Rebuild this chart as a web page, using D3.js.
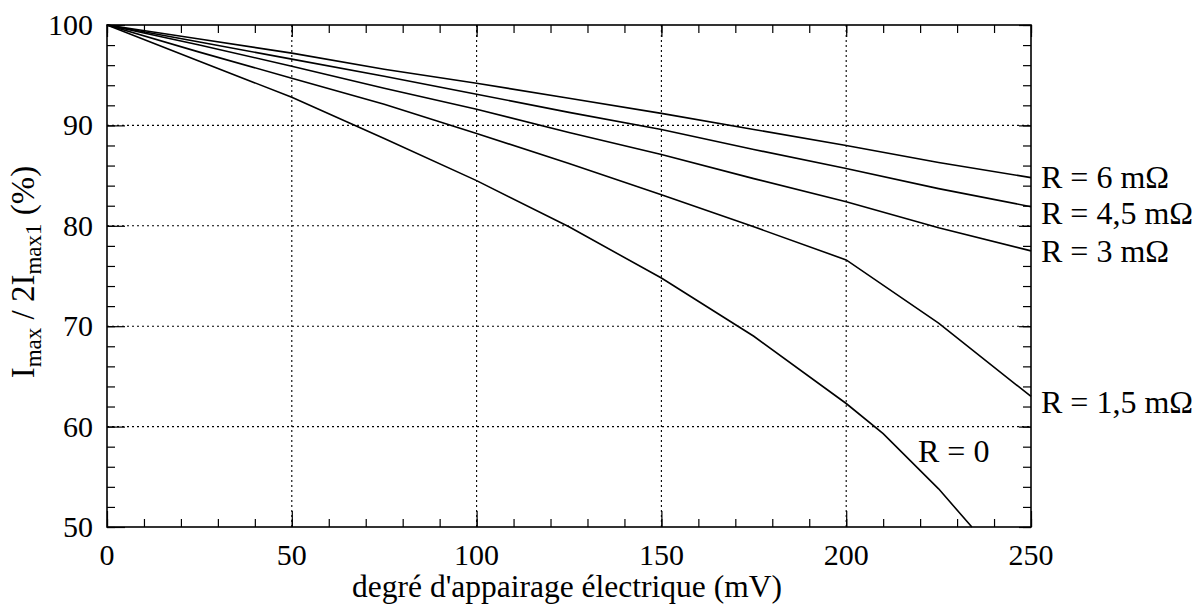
<!DOCTYPE html>
<html>
<head>
<meta charset="utf-8">
<script src="https://cdn.jsdelivr.net/npm/d3@7"></script>
<style>
  html, body { margin: 0; padding: 0; background: #fff; }
  svg { display: block; font-family: "Liberation Serif", "Times New Roman", serif; }
</style>
</head>
<body>
<svg id="chart" width="1203" height="604"></svg>
<script>
// ---- data ----
const xValues   = [0, 25, 50, 75, 100, 125, 150, 175, 200, 225, 250];
const seriesR6  = [100, 98.6, 97.2, 95.6, 94.2, 92.7, 91.2, 89.6, 88.0, 86.3, 84.8];
const seriesR45 = [100, 98.3, 96.6, 94.9, 93.1, 91.3, 89.6, 87.6, 85.7, 83.7, 81.9];
const seriesR3  = [100, 98.0, 95.9, 93.7, 91.6, 89.3, 87.1, 84.7, 82.4, 79.8, 77.5];
const seriesR15 = [100, 97.3, 94.7, 92.1, 89.2, 86.2, 83.1, 79.9, 76.6, 70.3, 63.0];
const xValuesR0 = [0, 25, 50, 75, 100, 125, 150, 175, 200, 210, 225, 234];
const seriesR0  = [100, 96.4, 92.8, 88.7, 84.5, 79.9, 74.8, 69.0, 62.3, 59.3, 53.8, 50];
const seriesLabels = ["R = 6 m\u03A9", "R = 4,5 m\u03A9", "R = 3 m\u03A9", "R = 1,5 m\u03A9", "R = 0"];
const xTickValues = [0, 50, 100, 150, 200, 250];
const yTickValues = [50, 60, 70, 80, 90, 100];
const xAxisTitle = "degr\u00e9 d'appairage \u00e9lectrique (mV)";

(function () {
// ---- layout ----
const svg = d3.select("#chart");
const pL = 107, pR = 1031, pT = 25, pB = 527;
const x = d3.scaleLinear().domain([0, 250]).range([pL, pR]);
const y = d3.scaleLinear().domain([50, 100]).range([pB, pT]);

// gridlines (dotted)
const grid = svg.append("g").attr("stroke", "#000").attr("stroke-width", 1.1)
  .attr("stroke-dasharray", "2,3");
xTickValues.filter(v => v > 0 && v < 250).forEach(v => {
  grid.append("line").attr("x1", x(v)).attr("x2", x(v)).attr("y1", pT).attr("y2", pB);
});
yTickValues.filter(v => v > 50 && v < 100).forEach(v => {
  grid.append("line").attr("x1", pL).attr("x2", pR).attr("y1", y(v)).attr("y2", y(v));
});

// axes with inward ticks
const minorX = d3.range(0, 251, 10);
const minorY = d3.range(50, 101, 2);
const axB = svg.append("g").attr("transform", `translate(0,${pB})`)
  .call(d3.axisTop(x).tickValues(minorX).tickSize(8).tickFormat(""));
const axT = svg.append("g").attr("transform", `translate(0,${pT})`)
  .call(d3.axisBottom(x).tickValues(minorX).tickSize(8).tickFormat(""));
const axL = svg.append("g").attr("transform", `translate(${pL},0)`)
  .call(d3.axisRight(y).tickValues(minorY).tickSize(8).tickFormat(""));
const axR = svg.append("g").attr("transform", `translate(${pR},0)`)
  .call(d3.axisLeft(y).tickValues(minorY).tickSize(8).tickFormat(""));
// major solid ticks
const axBM = svg.append("g").attr("transform", `translate(0,${pB})`)
  .call(d3.axisTop(x).tickValues(xTickValues).tickSize(16).tickFormat(""));
const axTM = svg.append("g").attr("transform", `translate(0,${pT})`)
  .call(d3.axisBottom(x).tickValues(xTickValues).tickSize(12).tickFormat(""));
const axLM = svg.append("g").attr("transform", `translate(${pL},0)`)
  .call(d3.axisRight(y).tickValues(yTickValues).tickSize(18).tickFormat(""));
const axRM = svg.append("g").attr("transform", `translate(${pR},0)`)
  .call(d3.axisLeft(y).tickValues(yTickValues).tickSize(12).tickFormat(""));
[axB, axT, axL, axR, axBM, axTM, axLM, axRM].forEach(g => {
  g.select(".domain").remove();
  g.selectAll("line").attr("stroke", "#000").attr("stroke-width", 1.2);
});

// frame
svg.append("rect").attr("x", pL).attr("y", pT)
  .attr("width", pR - pL).attr("height", pB - pT)
  .attr("fill", "none").attr("stroke", "#000").attr("stroke-width", 1.6);

// tick labels
svg.append("g").selectAll("text").data(xTickValues).join("text")
  .attr("x", d => x(d)).attr("y", 565)
  .attr("text-anchor", "middle").attr("font-size", 30).attr("fill", "#000")
  .text(d => d);
svg.append("g").selectAll("text").data(yTickValues).join("text")
  .attr("x", 93).attr("y", d => y(d) + 10)
  .attr("text-anchor", "end").attr("font-size", 30).attr("fill", "#000")
  .text(d => d);

// axis titles
svg.append("text").attr("x", (pL + pR) / 2 - 2).attr("y", 597)
  .attr("text-anchor", "middle").attr("font-size", 31.5).attr("fill", "#000")
  .text(xAxisTitle);

const yt = svg.append("text")
  .attr("transform", `translate(34,272) rotate(-90)`)
  .attr("text-anchor", "middle").attr("font-size", 33).attr("fill", "#000");
yt.append("tspan").text("I");
yt.append("tspan").attr("font-size", 23).attr("dy", 7).text("max");
yt.append("tspan").attr("dy", -7).text(" / 2I");
yt.append("tspan").attr("font-size", 23).attr("dy", 7).text("max1");
yt.append("tspan").attr("dy", -7).text(" (%)");

// curves
const line = d3.line().x(d => x(d[0])).y(d => y(d[1]));
const allSeries = [
  d3.zip(xValues, seriesR6),
  d3.zip(xValues, seriesR45),
  d3.zip(xValues, seriesR3),
  d3.zip(xValues, seriesR15),
  d3.zip(xValuesR0, seriesR0)
];
svg.append("g").selectAll("path").data(allSeries).join("path")
  .attr("d", line).attr("fill", "none").attr("stroke", "#000").attr("stroke-width", 1.6);

// curve labels
const labelPos = [
  { x: 1041, y: 188 },
  { x: 1041, y: 224 },
  { x: 1041, y: 262 },
  { x: 1041, y: 413 },
  { x: 918,  y: 462 }
];
svg.append("g").selectAll("text").data(seriesLabels).join("text")
  .attr("x", (d, i) => labelPos[i].x).attr("y", (d, i) => labelPos[i].y)
  .attr("font-size", 32).attr("fill", "#000")
  .text(d => d);
})();
</script>
</body>
</html>
